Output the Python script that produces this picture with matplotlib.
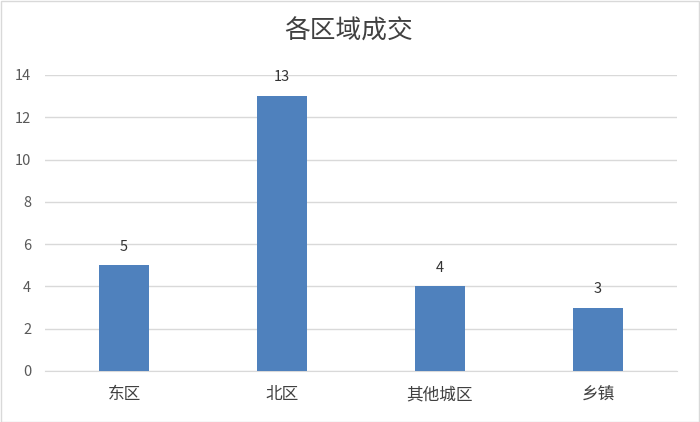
import matplotlib
matplotlib.use("Agg")
import matplotlib.pyplot as plt
from matplotlib.patches import Rectangle

plt.rcParams['font.family'] = ['Noto Sans CJK SC', 'DejaVu Sans']

categories = ["东区", "北区", "其他城区", "乡镇"]
values = [5, 13, 4, 3]
yticks = [0, 2, 4, 6, 8, 10, 12, 14]
title = "各区域成交"

fig = plt.figure(figsize=(7, 4.22), dpi=100)
ax = fig.add_axes([45/700, 1-371/422, (677-45)/700, (371-75)/422])

x = list(range(len(categories)))
ax.bar(x, values, width=0.315, color="#4F81BD", zorder=3)
for xi, v in zip(x, values):
    ax.annotate(str(v), (xi, v), xytext=(0, 13.5), textcoords="offset points",
                ha="center", va="center", fontsize=10.5, color="#333333",
                fontweight="medium")

ax.set_xlim(-0.5, len(categories) - 0.5)
ax.set_ylim(0, 14)
ax.set_yticks(yticks)
ax.set_yticklabels([str(t) for t in yticks], fontsize=10.5, color="#595959")
ax.set_xticks(x)
ax.set_xticklabels(categories, fontsize=12, color="#404040")
ax.tick_params(axis='both', length=0)
ax.tick_params(axis='y', pad=10)
ax.tick_params(axis='x', pad=11)
ax.grid(axis='y', color="#D9D9D9", linewidth=1.0, zorder=0)
for s in ["top", "right", "left"]:
    ax.spines[s].set_visible(False)
ax.spines["bottom"].set_color("#D9D9D9")

fig.text(349/700, 1-32/422, title, ha="center", va="center", fontsize=18.5,
         color="#404040", fontweight="medium")

fig.patches.append(Rectangle((0.5/700, 0.5/422), 698.5/700, 420.5/422, transform=fig.transFigure,
                             fill=False, edgecolor="#D9D9D9", linewidth=1.0))

fig.savefig("out.png", dpi=100)
